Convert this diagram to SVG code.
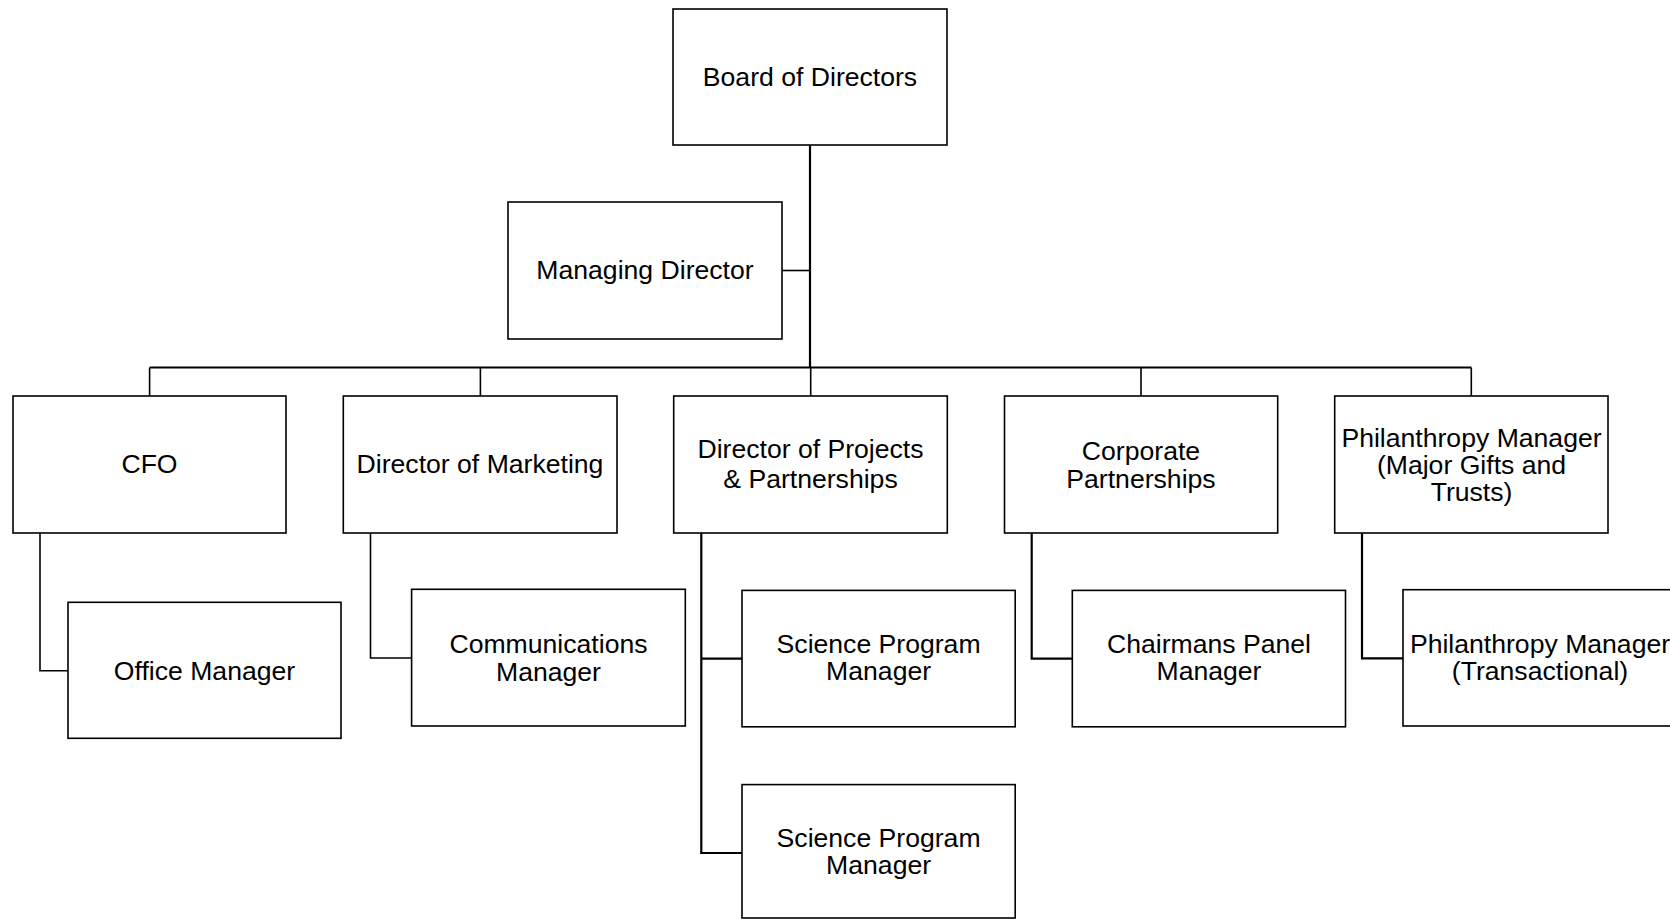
<svg xmlns="http://www.w3.org/2000/svg" width="1670" height="919" viewBox="0 0 1670 919">
<style>
.box{fill:#fff;stroke:#000;stroke-width:1.6}
.t{font-family:"Liberation Sans",Arial,sans-serif;font-size:26.6px;fill:#000;text-anchor:middle}
.c{fill:none;stroke:#000;stroke-width:1.6}
.c2{fill:none;stroke:#000;stroke-width:2.2}
</style>
<rect width="1670" height="919" fill="#fff"/>
<g id="connectors">
<path class="c2" d="M810,145 V368"/>
<path class="c" d="M782,270.5 H810"/>
<path class="c2" d="M149.6,367.5 H1471.3"/>
<path class="c" d="M149.6,367.5 V396 M480.4,367.5 V396 M810.7,367.5 V396 M1141,367.5 V396 M1471.3,367.5 V396"/>
<path class="c" d="M40,533 V670.7 H68"/>
<path class="c" d="M370.5,533 V658 H412"/>
<path class="c2" d="M701.3,533 V853 H742 M701.3,658.6 H742"/>
<path class="c2" d="M1031.7,533 V658.6 H1072"/>
<path class="c2" d="M1362,533 V658.3 H1403"/>
</g>
<g id="board"><rect class="box" x="673" y="9" width="274" height="136"/><text class="t" x="810" y="86">Board of Directors</text></g>
<g id="md"><rect class="box" x="508" y="202" width="274" height="137"/><text class="t" x="645" y="279">Managing Director</text></g>
<g id="cfo"><rect class="box" x="13" y="396" width="273" height="137"/><text class="t" x="149.5" y="473">CFO</text></g>
<g id="dom"><rect class="box" x="343.3" y="396" width="273.7" height="137"/><text class="t" x="480" y="473">Director of Marketing</text></g>
<g id="dpp"><rect class="box" x="673.7" y="396" width="273.6" height="137"/><text class="t" x="810.5" y="458">Director of Projects</text><text class="t" x="810.5" y="488">&amp; Partnerships</text></g>
<g id="cp"><rect class="box" x="1004.5" y="396" width="273.2" height="137"/><text class="t" x="1141" y="460">Corporate</text><text class="t" x="1141" y="488">Partnerships</text></g>
<g id="pmg"><rect class="box" x="1334.7" y="396" width="273.3" height="137"/><text class="t" x="1471.5" y="447">Philanthropy Manager</text><text class="t" x="1471.5" y="474">(Major Gifts and</text><text class="t" x="1471.5" y="501">Trusts)</text></g>
<g id="om"><rect class="box" x="68" y="602.3" width="273" height="136"/><text class="t" x="204.5" y="680">Office Manager</text></g>
<g id="comm"><rect class="box" x="411.6" y="589.3" width="273.7" height="136.7"/><text class="t" x="548.5" y="653">Communications</text><text class="t" x="548.5" y="681">Manager</text></g>
<g id="spm1"><rect class="box" x="742" y="590.4" width="273.2" height="136.4"/><text class="t" x="878.6" y="653">Science Program</text><text class="t" x="878.6" y="680">Manager</text></g>
<g id="spm2"><rect class="box" x="742" y="784.6" width="273.2" height="133.4"/><text class="t" x="878.6" y="847">Science Program</text><text class="t" x="878.6" y="874">Manager</text></g>
<g id="cpm"><rect class="box" x="1072.3" y="590.4" width="273.2" height="136.4"/><text class="t" x="1209" y="653">Chairmans Panel</text><text class="t" x="1209" y="680">Manager</text></g>
<g id="pmt"><rect class="box" x="1403" y="589.7" width="274" height="136.3"/><text class="t" x="1540" y="653">Philanthropy Manager</text><text class="t" x="1540" y="680">(Transactional)</text></g>
</svg>
